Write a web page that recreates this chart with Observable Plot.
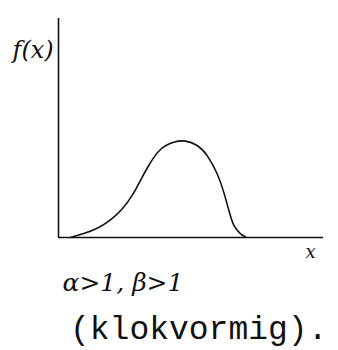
<!DOCTYPE html>
<html>
<head>
<meta charset="utf-8">
<script src="https://cdn.jsdelivr.net/npm/d3@7"></script>
<script src="https://cdn.jsdelivr.net/npm/@observablehq/plot@0.6"></script>
<style>
  html, body { margin: 0; padding: 0; background: #fff; }
  #chart { width: 338px; }
  .caption {
    font-family: "Liberation Mono", "DejaVu Sans Mono", monospace;
    font-size: 33px;
    line-height: 38px;
    color: #111;
    padding-left: 70px;
    margin-top: 6px;
    white-space: nowrap;
  }
</style>
</head>
<body>
<div id="chart"></div>
<script>
// Bell-shaped density sketch (beta with alpha > 1, beta > 1)
const xs = [0.045, 0.095, 0.146, 0.196, 0.240, 0.278, 0.309, 0.341, 0.385, 0.435, 0.479, 0.523, 0.561, 0.599, 0.624, 0.643, 0.662, 0.687, 0.706];
const fx = [0, 0.18, 0.42, 0.80, 1.30, 1.92, 2.60, 3.30, 4.02, 4.35, 4.40, 4.20, 3.74, 2.90, 2.05, 1.23, 0.55, 0.17, 0.03];

const yLabel = "f(x)";
const xLabel = "x";
const paramLabel = "α>1, β>1";
const captionText = "(klokvormig).";

const points = xs.map((x, i) => ({x, y: fx[i]}));
const ink = "#111";

const plot = Plot.plot({
  width: 338,
  height: 306,
  marginLeft: 58,
  marginRight: 15,
  marginTop: 18,
  marginBottom: 69,
  x: {domain: [0, 1], axis: null},
  y: {domain: [0, 10], axis: null},
  style: {background: "#fff"},
  marks: [
    Plot.ruleY([0], {stroke: ink, strokeWidth: 1.6}),
    Plot.ruleX([0], {stroke: ink, strokeWidth: 1.6}),
    Plot.line(points, {x: "x", y: "y", curve: "natural", stroke: ink, strokeWidth: 1.6}),
    Plot.text([yLabel], {
      frameAnchor: "top-left", dx: -46, dy: 22, textAnchor: "start",
      fontSize: 24, fontStyle: "italic", fontFamily: "DejaVu Serif", fill: ink
    }),
    Plot.text([xLabel], {
      frameAnchor: "bottom-right", dx: -13, dy: 20, textAnchor: "middle",
      fontSize: 18, fontStyle: "italic", fontFamily: "DejaVu Serif", fill: ink
    }),
    Plot.text([paramLabel], {
      frameAnchor: "bottom-left", dx: 4, dy: 53, textAnchor: "start",
      fontSize: 25, fontStyle: "italic", fontFamily: "DejaVu Serif", fill: ink
    })
  ]
});

document.getElementById("chart").appendChild(plot);
const cap = document.createElement("div");
cap.className = "caption";
cap.textContent = captionText;
document.getElementById("chart").appendChild(cap);
</script>
</body>
</html>
